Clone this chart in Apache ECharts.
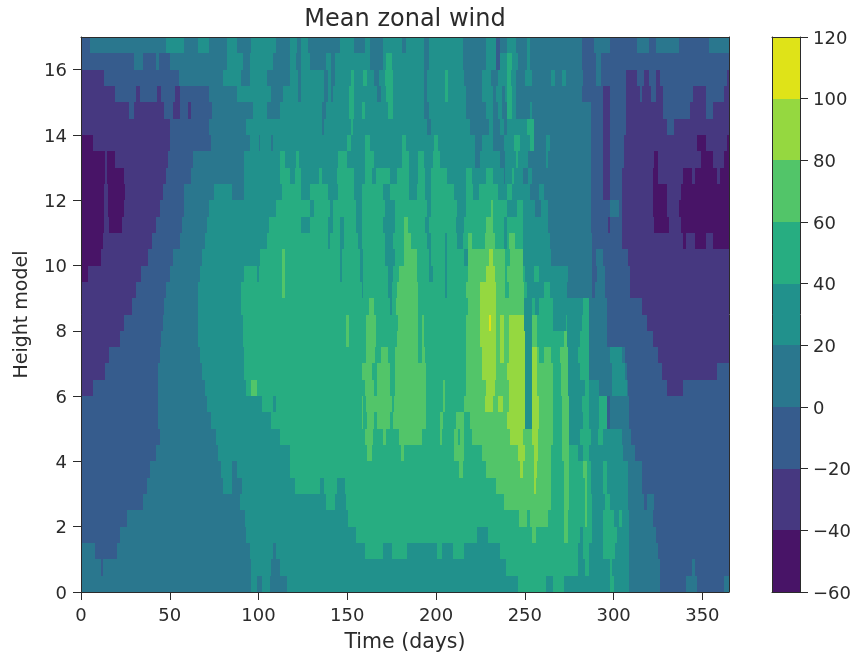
<!DOCTYPE html>
<html><head><meta charset="utf-8">
<script src="https://cdn.jsdelivr.net/npm/echarts@6/dist/echarts.min.js"></script>
<style>html,body{margin:0;padding:0;background:#fff}#c{width:854px;height:657px;filter:blur(0.55px)}</style>
</head><body><div id="c"></div>
<script>
const levels = [-60,-40,-20,0,20,40,60,80,100,120];
const bandColors = ['#481467','#463880','#365c8d','#2a778e','#21918c','#27ad81','#52c569','#95d840','#dfe318'];
const xTicks = [0,50,100,150,200,250,300,350];
const yTicks = [0,2,4,6,8,10,12,14,16];
const heightCentres = [16.75,16.25,15.75,15.25,14.75,14.25,13.75,13.25,12.75,12.25,11.75,11.25,10.75,10.25,9.75,9.25,8.75,8.25,7.75,7.25,6.75,6.25,5.75,5.25,4.75,4.25,3.75,3.25,2.75,2.25,1.75,1.25,0.75,0.25];
// each row: wind value, day where that value ends, wind value, day ...
const windRuns = [
[-10,5,10,48,30,58,10,66,30,72,10,82,30,88,10,96,30,110,10,118,30,121.5,10,124,30,128,10,146,30,154,10,160,30,163,10,170,30,181,10,183,30,193,10,196,30,215,10,228,30,234,-10,236,10,240,30,245,10,251,30,253,10,282,-10,289,10,298,-10,313,10,320,-10,324,10,337,-10,354,10,365],
[-10,30,10,35,-10,42,10,44,-10,50,10,82,30,91,10,95,30,108,10,118,30,121,10,124,30,129,10,138,30,141,10,143,30,163,10,170,30,172,50,175,30,193,10,196,30,215,10,228,30,234,-10,236,30,240,50,243,30,246,10,251,30,253,10,282,-10,290,10,293,-10,365],
[-30,13,-10,55,10,80,30,90,10,95,30,105,10,118,30,122,10,124,30,137,10,139,30,141,10,143,30,152,50,154,30,159,50,161,30,165,10,168,30,171,50,176,30,193,10,195,30,205,50,207,30,216,10,226,30,231,10,235,30,240,50,242,30,245,10,250,30,254,10,265,30,267,10,271,30,273,10,283,-10,290,10,293,-10,307,-30,313,-10,317,-30,320,-10,324,-30,326,-10,364,-30,365],
[-30,19,-10,31,-30,33,-10,43,-30,45,-10,53,-30,56,-10,72,10,88,30,107,10,114,30,122,10,124,30,137,10,139,30,141,10,142,30,151,50,154,30,167,10,169,30,172,50,176,30,193,10,195,30,205,50,207,30,217,10,226,30,232,10,234,30,237,10,239,30,240,50,243,30,245,10,282,-10,294,-30,298,-10,307,-30,315,-10,316,-30,321,-10,324,-30,328,-10,345,-30,352,-10,362,-30,365],
[-30,27,-10,30,-30,47,-10,52,-30,56,-10,60,-30,62,-10,74,10,97,30,105,10,112,30,136,10,138,30,151,50,154,30,158,50,160,30,173,50,176,30,193,10,196,30,217,10,228,30,232,10,235,30,237,10,240,50,243,30,245,10,253,30,254,10,287,-10,294,-30,298,-10,307,-30,328,-10,343,-30,352,-10,356,-30,365],
[-30,50,-10,72,10,93,30,136,10,137,30,152,50,153,30,195,10,197,30,219,10,230,30,232,10,236,30,238,10,240,30,251,50,255,10,287,-10,294,-30,298,-10,307,-30,330,-10,334,-30,365],
[-50,7,-30,50,-10,73,10,95,30,100,10,101,30,107,10,108,30,150,50,152,30,160,50,163,30,181,50,183,30,199,50,201,30,222,10,226,30,232,10,238,30,244,50,247,30,253,50,255,10,262,30,264,10,287,-10,294,-30,298,-10,306,-30,347,-50,352,-30,364,-50,365],
[-50,13.5,-30,14.5,-50,19,-30,49,-10,63,10,92,30,112,50,115,30,121,50,123,30,145,50,150,30,160,50,165,30,181,50,185,30,190,50,193,30,198,50,202,30,222,10,225,30,236,10,239,30,245,50,246,30,252,10,262,30,263,10,287,-10,294,-30,298,-10,306,-30,323,-50,325,-30,349,-50,356,-30,362,-50,365],
[-50,13.5,-30,14.5,-50,24,-30,48,-10,62,10,92,30,112,50,118,30,120.5,50,124,30,134,50,136,30,144,50,154,30,160,50,164,30,166,50,174,30,178,50,185,30,190,50,194,30,197,50,206,30,217,50,220,30,228,50,232,30,238,10,239,30,243,50,244,30,249,10,252,30,254,10,287,-10,294,-30,298,-10,305,-30,322,-50,325,-30,339,-50,344,-30,346,-50,358,-30,360,-50,365],
[-50,13,-30,15,-50,25,-30,46,-10,58,10,75,30,85,10,92,30,113,50,124,30,129,50,139,30,145,50,154,30,158,50,170,30,174,50,185,30,189,50,194,30,197,50,210,30,217,50,221,30,224,50,235,30,240,50,243,30,253,10,258,30,261,10,287,-10,294,-30,298,-10,305,-30,322,-50,330,-30,338,-50,365],
[-50,13,-30,15,-50,24,-30,44.5,-10,58,10,72,30,110,50,129,30,131,50,140,30,142,50,155,30,158,50,171,30,177,50,195,30,197,50,212,30,217,50,231,70,232,50,240,30,245.5,50,249,30,256,10,259,30,263,10,287,-10,298,10,303,-10,305,-30,322,-50,330,-30,337,-50,365],
[-50,13,-30,16,-50,23,-30,42.5,-10,57,10,71,30,106,50,124,30,129,50,139,30,142,50,146,30,148,50,155,30,158,50,170,30,177,50,182,70,184,50,194,30,196,50,211,30,216,50,228,70,232,50,238,30,240,50,249,30,263,10,287,-10,297,-30,298,-10,305,-30,323,-50,331,-30,338,-50,365],
[-50,12.5,-30,40,-10,56,10,70,30,105,50,139,30,140,50,146,30,148,50,156,30,158,50,171,30,176,50,182,70,186,50,195,30,197,50,205,30,206,50,212,30,215,50,218,70,220,50,227.5,70,233,50,238,30,240,50,241,70,244.5,50,249,30,264,10,288,-10,305,-30,339,-50,341,-30,346,-50,352,-30,356,-50,365],
[-50,11.5,-30,38,-10,52,10,68,30,101,50,113,70,115,50,146,30,147,50,157,30,159,50,171,30,177,50,182,70,189,50,196,30,197,50,205,30,206,50,216,30,218,70,230,90,232,70,239,50,241.5,70,249,30,265,10,288,-10,290,10,294,-10,308,-30,365],
[-50,4,-30,34,-10,50,10,67,30,92,50,99,30,100,50,113,70,115,50,146,30,147,50,157,30,159,50,173,30,176,50,179,70,189,50,196,30,198,50,205,30,206,50,218,70,228,90,233,70,239,50,240,70,249,50,250,30,255,50,258,30,274.5,10,288,-10,290.5,10,295,-10,309,-30,365],
[-30,31,-10,48,10,66,30,90,50,113,70,115,50,158,30,159,50,173,30,175,50,178,70,190,50,205,30,206,50,217,70,225,90,234,70,239,50,241,70,249.5,50,251,30,261,50,264,30,274,10,288,-10,289.5,10,295,-10,309,-30,365],
[-30,28.5,-10,47,10,66,30,90,50,162,70,165,50,174,30,175,50,177.5,70,190,50,218,70,225,90,234,70,249.5,30,254,50,256,30,258,50,266,30,283,50,286,10,296,-10,316,-30,365],
[-30,24,-10,46,10,66,30,91,50,149.5,70,151,50,160.5,70,166,50,178.5,70,190,50,192,70,193,50,217,70,225,90,230,110,231,90,234,70,236,90,238,70,241,90,249.5,30,254,70,257,50,266,30,273,50,274,30,282,50,286,10,296,-10,319,-30,365],
[-30,22,-10,45,10,66,30,91,50,149.5,70,151,50,160.5,70,166,50,178,70,190,50,192,70,193,50,217,70,225,90,234,70,236,90,238,70,241,90,250,30,254,70,257,50,272,70,274,30,281,50,286,10,296,-10,322,-30,365],
[-30,15.5,-10,44.5,10,67,30,92,50,160.5,70,165.5,50,169,70,173,50,177,70,190,50,192,70,194,50,217,70,226,90,234,70,236,90,238,70,241,90,250,30,254,90,257,70,258,50,261,70,265,50,270,70,274.5,30,280,50,286,10,298,30,304.5,10,306.5,-10,325,-30,365],
[-30,13.5,-10,43.5,10,68,30,92,50,158,70,164,50,167,70,174,50,177,70,194.5,50,217,70,226,90,234,70,240,90,250,30,254,90,257,70,266,50,270.5,70,274.5,30,281,50,286,10,299,30,306.5,10,307.5,-10,327,-30,358,-10,365],
[-30,7,-10,43.5,10,70,30,93,50,96,70,99,50,160,70,165,50,167,70,174,50,177,70,194.5,50,204,70,205,50,217,70,228,90,233,70,241,90,250,30,254,90,257,70,266,50,270.5,70,274.5,30,284,50,286,30,292,10,299,30,307.5,10,308,-10,330,-30,339,-10,365],
[-10,43.5,10,71,30,102,50,108,30,110,50,158,70,159,50,160.5,70,175,50,176.5,70,194.5,50,204,70,205,50,216,70,227.5,90,232,70,235,90,237.5,70,241,90,250,30,254,90,258,70,266,50,271,70,275,30,282,50,286,30,291.5,50,296,-10,298,10,308.5,-10,365],
[-10,43.5,10,73.5,30,107,50,158,70,159,50,161,70,165,50,166.5,70,174,50,176,70,194.5,50,202,70,204,50,211,70,215.5,50,219,70,240,90,250,30,254,90,258,70,266,50,271,70,275,30,283,50,286,30,291.5,50,296,-10,298,10,308.5,-10,365],
[-10,44.5,10,76,30,112,50,160,70,164.5,50,170,70,172,50,179,70,192,50,202,70,203.5,50,210,70,212.5,50,213.5,70,215.5,50,220,70,241.5,90,249,70,254,90,257.5,70,266,50,271,70,275,30,281,50,287,30,291,50,294,30,305,10,310,-10,365],
[-10,42.5,10,77,30,118,50,161,70,164,50,180.5,70,182,50,210,70,215.5,50,226,70,246,90,250,70,255,90,257.5,70,265,50,271,70,275,50,280,30,283,50,286,30,305.5,10,312,-10,365],
[-10,39,10,79,30,85,10,88,30,118,50,213,70,215,50,228,70,247,90,249,70,255,90,257,70,265,50,272,70,275,50,283,70,285,50,287,30,294,50,296,30,308,10,316,-10,365],
[-10,37,10,80,30,85,10,90.5,30,120.5,50,134.5,30,137,50,144,30,148.5,50,234,70,255,90,256.5,70,265,50,272,70,275,50,284,70,285,50,287.5,30,294,50,296.5,30,308,10,316,-10,365],
[-10,35,10,89.5,30,138,50,143,30,149,50,238,70,265,50,272,70,275,50,284,70,285,50,288,30,295,50,298,30,308,10,317,-10,319,10,323,-10,365],
[-10,26,10,92.5,30,150.5,50,246.5,70,251,50,253,70,263,50,272,70,274.5,50,284,70,285,50,288,30,294,50,300,30,303,50,305,30,308.5,10,322,-10,365],
[-10,22,10,93,30,155,50,223,30,229.5,50,254,70,256.5,50,272,70,274.5,50,281,30,283,50,288,30,294,50,302,30,308.5,10,324,-10,365],
[10,8,-10,20,10,95,30,108,10,110,30,160,50,170,30,175,50,183.5,30,200.5,50,203.5,30,209.5,50,215.5,30,236,50,280,30,283,50,286,30,294,50,301,30,308.5,10,325,-10,365],
[10,11,-10,12.5,10,96,30,107,10,112,30,239.5,50,280,30,284,50,286,30,298,50,299,30,308.5,10,326,-10,344,10,346,-10,365],
[10,96,30,99,10,102,30,106.5,10,116,30,246,50,262,30,266,50,272,30,298,50,300,30,308.5,10,326,-10,341,10,347,-10,362,10,365]
];
const rowHalf = (heightCentres[0]-heightCentres[1])/2;
const cells = [];
windRuns.forEach((run,r)=>{let start=0;for(let i=0;i<run.length;i+=2){cells.push([start,run[i+1],heightCentres[r]-rowHalf,heightCentres[r]+rowHalf,run[i]]);start=run[i+1];}});
const colorOf = v => { for(let i=0;i<bandColors.length;i++){ if(v<levels[i+1]) return bandColors[i]; } return bandColors[bandColors.length-1]; };
const barCells = bandColors.map((c,i)=>[0,1,levels[i],levels[i+1],(levels[i]+levels[i+1])/2]);
function renderRect(params,api){
  const p0=api.coord([api.value(0),api.value(3)]), p1=api.coord([api.value(1),api.value(2)]);
  const x0=Math.round(p0[0]),x1=Math.round(p1[0]),y0=Math.round(p0[1]),y1=Math.round(p1[1]);
  return {type:'rect',shape:{x:x0,y:y0,width:Math.max(x1-x0,1),height:y1-y0},style:{fill:colorOf(api.value(4))},silent:true};
}
const inkColor='#2b2b2b', fontFam='"DejaVu Sans"', tickFs=18;
const lineStyle={color:'#2b2b2b',width:1};
const tickRich={t:{fontFamily:fontFam,fontSize:tickFs,color:inkColor,padding:[4,0,0,0]}};
const chart=echarts.init(document.getElementById('c'),null,{renderer:'canvas'});
chart.setOption({
  animation:false,backgroundColor:'#fff',
  title:{text:'Mean zonal wind',left:400,top:3,textAlign:'center',textStyle:{fontFamily:fontFam,fontSize:24,fontWeight:'normal',color:inkColor}},
  grid:[{left:81,top:37,width:648,height:555,outerBoundsMode:'none'},{left:772,top:37,width:28,height:555,outerBoundsMode:'none'}],
  xAxis:[
    {gridIndex:0,type:'value',min:0,max:365,splitLine:{show:false},axisLine:{show:true,onZero:false,lineStyle},z:10,
     axisTick:{length:8,lineStyle,customValues:xTicks},axisLabel:{customValues:xTicks,fontFamily:fontFam,fontSize:tickFs,color:inkColor,margin:15},
     name:'Time (days)',nameLocation:'middle',nameGap:40,nameTextStyle:{fontFamily:fontFam,fontSize:20.5,color:inkColor}},
    {gridIndex:0,type:'value',position:'top',min:0,max:365,splitLine:{show:false},axisLine:{show:true,onZero:false,lineStyle},axisTick:{show:false},axisLabel:{show:false},z:10},
    {gridIndex:1,type:'value',min:0,max:1,show:true,splitLine:{show:false},axisLine:{show:true,onZero:false,lineStyle},axisTick:{show:false},axisLabel:{show:false},z:10},
    {gridIndex:1,type:'value',position:'top',min:0,max:1,splitLine:{show:false},axisLine:{show:true,onZero:false,lineStyle},axisTick:{show:false},axisLabel:{show:false},z:10}
  ],
  yAxis:[
    {gridIndex:0,type:'value',min:0,max:17,splitLine:{show:false},axisLine:{show:true,onZero:false,lineStyle},z:10,
     axisTick:{length:8,lineStyle,customValues:yTicks},axisLabel:{customValues:yTicks,margin:14,rich:tickRich,formatter:v=>'{t|'+v+'}'},
     name:'Height model',nameLocation:'middle',nameRotate:90,nameGap:49,nameTextStyle:{fontFamily:fontFam,fontSize:19,color:inkColor}},
    {gridIndex:0,type:'value',position:'right',min:0,max:17,splitLine:{show:false},axisLine:{show:true,onZero:false,lineStyle},axisTick:{show:false},axisLabel:{show:false},z:10},
    {gridIndex:1,type:'value',position:'left',min:-60,max:120,splitLine:{show:false},axisLine:{show:true,onZero:false,lineStyle},axisTick:{show:false},axisLabel:{show:false},z:10},
    {gridIndex:1,type:'value',position:'right',min:-60,max:120,interval:20,splitLine:{show:false},axisLine:{show:true,onZero:false,lineStyle},z:10,
     axisTick:{length:8,lineStyle},axisLabel:{margin:13,rich:tickRich,formatter:v=>'{t|'+String(v).replace('-','\u2212')+'}'}}
  ],
  series:[
    {type:'custom',xAxisIndex:0,yAxisIndex:0,renderItem:renderRect,data:cells,clip:true,encode:{x:[0,1],y:[2,3]},z:2},
    {type:'custom',xAxisIndex:2,yAxisIndex:2,renderItem:renderRect,data:barCells,clip:true,encode:{x:[0,1],y:[2,3]},z:2}
  ]
});
</script></body></html>
